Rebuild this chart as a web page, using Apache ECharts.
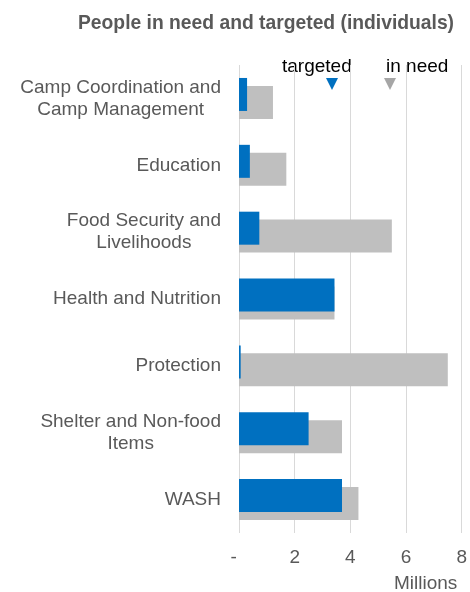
<!DOCTYPE html>
<html>
<head>
<meta charset="utf-8">
<script src="https://cdn.jsdelivr.net/npm/echarts@6/dist/echarts.min.js"></script>
<style>
  html, body { margin: 0; padding: 0; background: #fff; }
  #chart { width: 470px; height: 592px; }
</style>
</head>
<body>
<div id="chart"></div>
<script>
  // 类别（从上到下）
  var categories = [
    'Camp Coordination and\nCamp Management',
    'Education',
    'Food Security and\nLivelihoods',
    'Health and Nutrition',
    'Protection',
    'Shelter and Non-food\nItems',
    'WASH'
  ]
  // 单位：百万
  var inNeed = [1.22, 1.7, 5.49, 3.43, 7.5, 3.7, 4.29]
  var targeted = [0.29, 0.39, 0.73, 3.43, 0.06, 2.5, 3.7]
  var tickLabels = ['-  ', '2', '4', '6', '8']

  var font = 'Liberation Sans, Arial, sans-serif'
  var chart = echarts.init(document.getElementById('chart'))

  var option = {
    animation: false,
    grid: { left: 239, right: 7, top: 65, bottom: 59, containLabel: false },
    xAxis: {
      type: 'value',
      min: 0,
      max: 8,
      interval: 2,
      axisLine: { show: false },
      axisTick: { show: false },
      splitLine: { lineStyle: { color: '#d9d9d9', width: 1 } },
      axisLabel: {
        color: '#595959',
        fontSize: 19,
        fontFamily: font,
        margin: 15,
        formatter: function (v) { return tickLabels[v / 2] }
      }
    },
    yAxis: {
      type: 'category',
      inverse: true,
      data: categories,
      axisLine: { show: false },
      axisTick: { show: false },
      axisLabel: {
        margin: 18,
        formatter: function (v) {
          return v.split('\n').map(function (s) { return '{c|' + s + '}' }).join('\n')
        },
        rich: {
          c: { color: '#595959', fontSize: 19, fontFamily: font, lineHeight: 22, align: 'center' }
        }
      }
    },
    series: [
      {
        name: 'targeted',
        type: 'bar',
        barWidth: 33,
        barGap: '-76%',
        itemStyle: { color: '#0070c0' },
        z: 3,
        data: targeted
      },
      {
        name: 'in need',
        type: 'bar',
        barWidth: 33,
        barGap: '-76%',
        itemStyle: { color: '#bfbfbf' },
        z: 2,
        data: inNeed
      }
    ],
    graphic: [
      {
        type: 'text', left: 78, top: 14,
        style: { text: 'People in need and targeted (individuals)', fill: '#595959', font: 'bold 19.3px ' + font }
      },
      {
        type: 'text', left: 282, top: 57,
        style: { text: 'targeted', fill: '#000', font: '19px ' + font }
      },
      {
        type: 'text', left: 386, top: 57,
        style: { text: 'in need', fill: '#000', font: '19px ' + font }
      },
      {
        type: 'polygon',
        shape: { points: [[326, 78], [338, 78], [332, 90]] },
        style: { fill: '#0070c0' }
      },
      {
        type: 'polygon',
        shape: { points: [[384, 78], [396, 78], [390, 90]] },
        style: { fill: '#a6a6a6' }
      },
      {
        type: 'text', left: 394, top: 574,
        style: { text: 'Millions', fill: '#595959', font: '19px ' + font }
      }
    ]
  }

  chart.setOption(option)
  window.addEventListener('resize', function () {
    chart.resize()
  })
</script>
</body>
</html>
